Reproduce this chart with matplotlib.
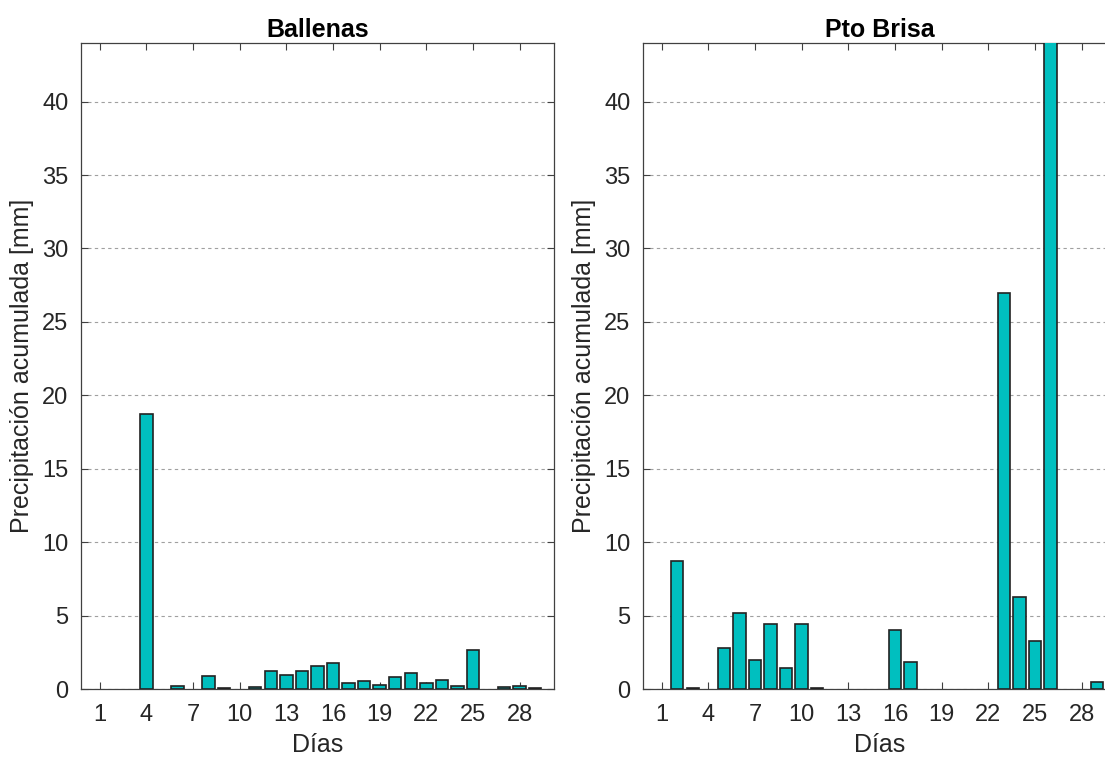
import numpy as np
import matplotlib.pyplot as plt

plt.rcParams['font.family'] = ['Liberation Sans', 'DejaVu Sans']

dias = np.arange(1, 31)

# precipitacion diaria acumulada [mm]
ballenas = [0, 0, 0, 18.7, 0, 0.2, 0, 0.89, 0.07, 0,
            0.16, 1.25, 0.98, 1.25, 1.55, 1.77, 0.43, 0.55, 0.27, 0.82,
            1.11, 0.43, 0.64, 0.18, 2.68, 0, 0.11, 0.23, 0.09, 0]
pto_brisa = [0, 8.72, 0.05, 0, 2.82, 5.18, 1.98, 4.43, 1.41, 4.43,
             0.05, 0, 0, 0, 0, 4.0, 1.82, 0, 0, 0,
             0, 0, 27.0, 6.3, 3.27, 48.0, 0, 0, 0.48, 0]

titulos = ['Ballenas', 'Pto Brisa']
series = [ballenas, pto_brisa]
xticks = np.arange(1, 31, 3)
yticks = np.arange(0, 45, 5)

fig = plt.figure(figsize=(11.05, 7.61), dpi=100)
posiciones = [[0.0733, 0.0946, 0.428, 0.849],
              [0.5819, 0.0946, 0.428, 0.849]]

for pos, titulo, y in zip(posiciones, titulos, series):
    ax = fig.add_axes(pos)
    y = np.asarray(y, dtype=float)
    hay = y > 0  # dias sin lluvia no dibujan barra
    ax.bar(dias[hay], y[hay], width=0.8, color=(0, 0.75, 0.75),
           edgecolor='#222222', linewidth=1.2, zorder=3)
    ax.set_xlim(-0.2, 30.2)
    ax.set_ylim(0, 44)
    ax.set_xticks(xticks)
    ax.set_yticks(yticks)
    ax.grid(axis='y', linestyle=(0, (3, 3)), color='#a0a0a0', linewidth=0.8, zorder=0)
    ax.tick_params(direction='in', top=True, right=True, labelsize=17,
                   length=5, width=0.8, color='#404040', labelcolor='#262626')
    ax.tick_params(axis='x', pad=11)
    ax.tick_params(axis='y', pad=9)
    for s in ax.spines.values():
        s.set_color('#404040')
        s.set_linewidth(0.9)
    ax.set_xlabel('Días', fontsize=18, labelpad=5, color='#262626')
    ax.set_ylabel('Precipitación acumulada [mm]', fontsize=18, labelpad=6, color='#262626')
    ax.set_title(titulo, fontsize=18, fontweight='bold', pad=4)

fig.savefig('out.png', dpi=100)
